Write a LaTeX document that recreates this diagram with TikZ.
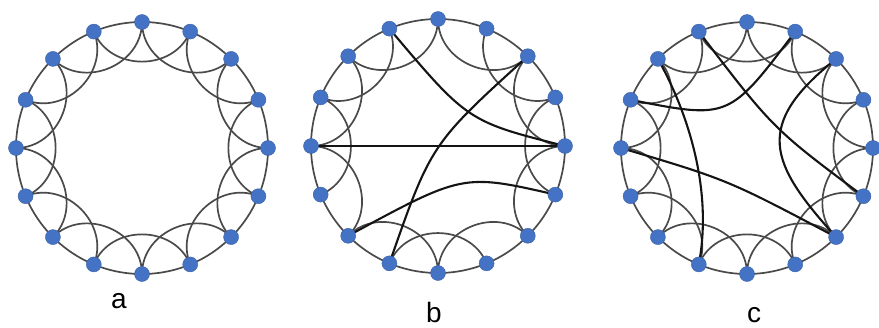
\documentclass[tikz,border=0pt]{standalone}
\usepackage{fontspec}
\setmainfont{Liberation Sans}
\definecolor{nodeblue}{HTML}{4472C4}
\definecolor{edgegray}{HTML}{4A4A4A}
\tikzset{
  dot/.style={circle, fill=nodeblue, draw=nodeblue!85!black, line width=0.4pt, minimum size=15pt, inner sep=0pt},
  lattice/.style={draw=edgegray, line width=1.7pt},
  rewired/.style={draw=black!92, line width=2.1pt},
  lbl/.style={font=\fontsize{28}{30}\selectfont, anchor=base, inner sep=0pt}
}
\begin{document}
\begin{tikzpicture}[x=1pt,y=-1pt]
\useasboundingbox (0,0) rectangle (879,327);
% positions
\foreach \cx/\cy/\r/\p in {142/148/126/a, 438/146/127/b, 747/148/126/c} {
  \draw[lattice] (\cx,\cy) circle[radius=\r pt];
  \foreach \i in {0,...,15} {
    \pgfmathsetmacro\ang{90+22.5*\i}
    \coordinate (\p\i) at ({\cx+\r*cos(\ang)},{\cy-\r*sin(\ang)});
    \coordinate (\p k\i) at ({\cx+0.656*\r*cos(\ang)},{\cy-0.656*\r*sin(\ang)});
  }
}
% lattice second-neighbour arcs
\foreach \p in {a,c} {
  \foreach \i in {0,...,15} {
    \pgfmathtruncatemacro\j{mod(\i+2,16)}
    \draw[lattice] (\p\i) .. controls (\p k\i) and (\p k\j) .. (\p\j);
  }
}
\foreach \i/\j in {0/2,1/3,2/4,3/5,4/6,6/8,7/9,8/10,10/12,11/13,12/14,13/15,14/0} {
  \draw[lattice] (b\i) .. controls (bk\i) and (bk\j) .. (b\j);
}
% rewired edges b
\draw[rewired] (b1) .. controls (467.7,121.5) .. (b12);
\draw[rewired] (b14) .. controls (431,144) .. (b7);
\draw[rewired] (b4) -- (b12);
\draw[rewired] (b6) .. controls (463,173.5) .. (b11);
% rewired edges c
\draw[rewired] (c1) .. controls (773,128.7) .. (c11);
\draw[rewired] (c2) .. controls (684,105) and (714,185) .. (c7);
\draw[rewired] (c3) .. controls (729,119.3) .. (c15);
\draw[rewired] (c4) .. controls (727.8,179.8) .. (c10);
\draw[rewired] (c14) .. controls (753,125) and (769,163) .. (c10);
% nodes
\foreach \p in {a,b,c} {
  \foreach \i in {0,...,15} {
    \node[dot] (n\p\i) at (\p\i) {};
  }
}
% labels
\node[lbl] (la) at (119,308) {a};
\node[lbl] (lb) at (434,322) {b};
\node[lbl] (lc) at (754,322) {c};
\end{tikzpicture}
\end{document}
